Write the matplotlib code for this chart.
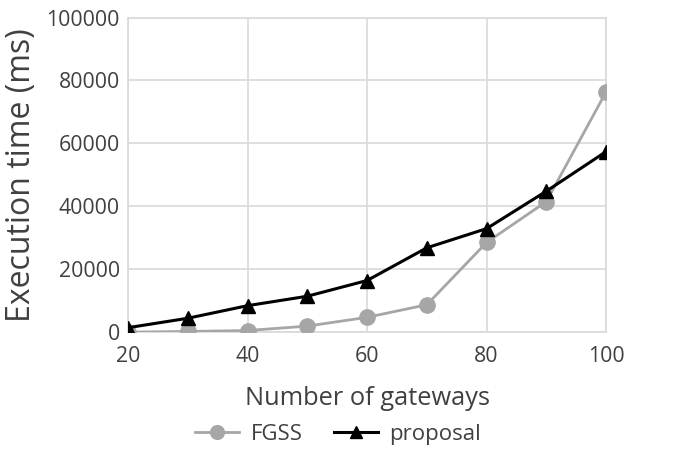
import matplotlib
matplotlib.use("Agg")
import matplotlib.pyplot as plt

# Execution time versus number of gateways
gateways = [20, 30, 40, 50, 60, 70, 80, 90, 100]
fgss_ms = [0, 200, 500, 1900, 4700, 8700, 28500, 41500, 76400]
proposal_ms = [1400, 4400, 8400, 11400, 16400, 26800, 32900, 44800, 57400]

x_ticks = [20, 40, 60, 80, 100]
y_ticks = [0, 20000, 40000, 60000, 80000, 100000]

plt.rcParams["font.family"] = ["Open Sans", "DejaVu Sans"]

fig = plt.figure(figsize=(6.88, 4.5), dpi=100)
ax = fig.add_axes([0.186, 0.262, 0.695, 0.699])

grid_c = "#d9d9d9"
text_c = "#404040"

ax.plot(gateways, fgss_ms, color="#a6a6a6", lw=2, marker="o", ms=11,
        label="FGSS", zorder=3)
ax.plot(gateways, proposal_ms, color="#000000", lw=2.2, marker="^", ms=10,
        label="proposal", zorder=4)

ax.set_xlim(20, 100)
ax.set_ylim(0, 100000)
ax.set_xticks(x_ticks)
ax.set_yticks(y_ticks)
ax.grid(True, color=grid_c, lw=1.2)
ax.set_axisbelow(True)
for s in ax.spines.values():
    s.set_color(grid_c)
    s.set_linewidth(1.2)
ax.tick_params(length=0, labelsize=15.3, colors=text_c)
ax.tick_params(axis="x", pad=10)
ax.tick_params(axis="y", pad=6)
for lab in ax.get_xticklabels() + ax.get_yticklabels():
    lab.set_clip_on(False)

ax.set_xlabel("Number of gateways", fontsize=18.3, color=text_c, labelpad=14)
ax.set_ylabel("Execution time (ms)", fontsize=23, color=text_c, labelpad=6)

leg = fig.legend(*ax.get_legend_handles_labels(), loc="center",
                 bbox_to_anchor=(338 / 688, 0.035), ncol=2, frameon=False,
                 fontsize=16, handlelength=2.0, columnspacing=1.4,
                 handletextpad=0.5, markerscale=0.9)
for t in leg.get_texts():
    t.set_color(text_c)

fig.savefig("out.png", dpi=100)
